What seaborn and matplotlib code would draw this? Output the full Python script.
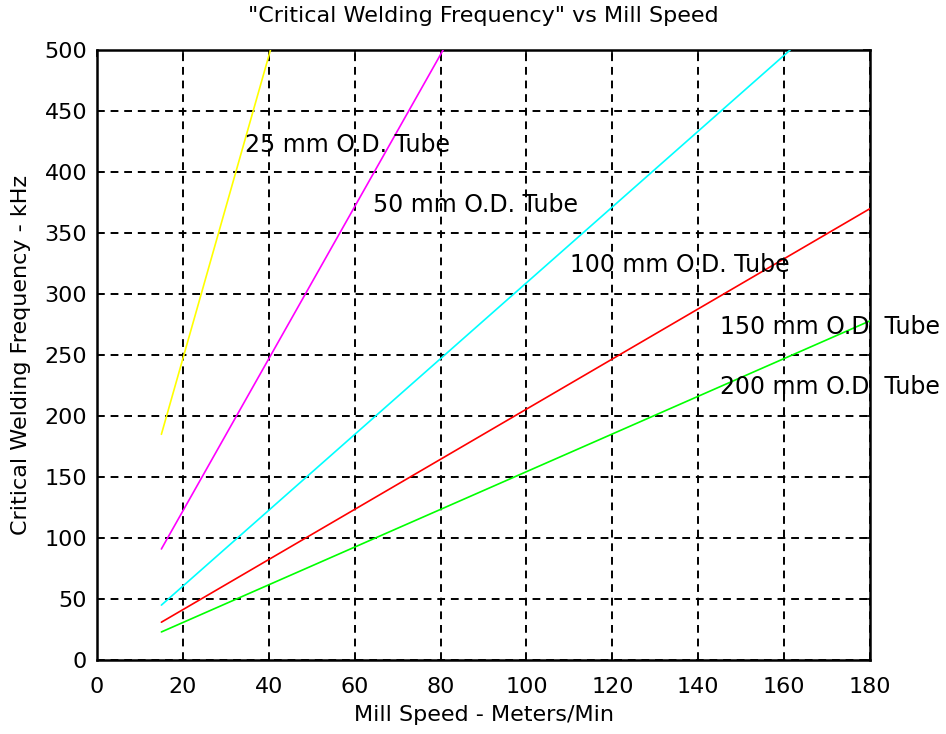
import matplotlib
matplotlib.use("Agg")
import matplotlib.pyplot as plt
import seaborn as sns
import pandas as pd

# Data (straight lines: start and end points)
tubes = ["25 mm", "50 mm", "100 mm", "150 mm", "200 mm"]
speed_start = [15, 15, 15, 15, 15]
speed_end = [40.4, 80.6, 161.4, 180, 180]
freq_start = [185, 91, 45, 31, 23]
freq_end = [500, 500, 500, 370, 278]
colors = ["#ffff00", "#ff00ff", "#00ffff", "#ff0000", "#00ff00"]

label_texts = ["25 mm O.D. Tube", "50 mm O.D. Tube", "100 mm O.D. Tube",
               "150 mm O.D  Tube", "200 mm O.D  Tube"]
label_x = [34.5, 64.3, 110.2, 145.1, 145.1]
label_y = [422, 373, 324, 273, 224]

x_ticks = [0, 20, 40, 60, 80, 100, 120, 140, 160, 180]
y_ticks = [0, 50, 100, 150, 200, 250, 300, 350, 400, 450, 500]

rows = []
for t, xs, xe, ys, ye in zip(tubes, speed_start, speed_end, freq_start, freq_end):
    rows.append({"tube": t, "speed": xs, "freq": ys})
    rows.append({"tube": t, "speed": xe, "freq": ye})
df = pd.DataFrame(rows)

sns.set_style("white")
plt.rcParams["font.family"] = ["DejaVu Sans"]
plt.rcParams["text.color"] = "black"

fig = plt.figure(figsize=(9.46, 7.34), dpi=100)
ax = fig.add_axes([0.1025, 0.1008, 0.8172, 0.8311])

sns.lineplot(data=df, x="speed", y="freq", hue="tube", hue_order=tubes,
             palette=dict(zip(tubes, colors)), linewidth=1.2, legend=False,
             ax=ax, zorder=3)

ax.set_xlim(0, 180)
ax.set_ylim(0, 500)
ax.set_xticks(x_ticks)
ax.set_yticks(y_ticks)
ax.tick_params(direction="in", length=5, width=1.2, top=True, right=True,
               labelsize=16, colors="black")
ax.tick_params(axis="x", pad=12)
ax.tick_params(axis="y", pad=7)
ax.grid(True, color="black", linestyle=(0, (4, 3)), linewidth=1.4)
for s in ax.spines.values():
    s.set_color("black")
    s.set_linewidth(1.8)
    s.set_visible(True)

for txt, lx, ly in zip(label_texts, label_x, label_y):
    ax.text(lx, ly, txt, fontsize=17, ha="left", va="center", zorder=4,
            color="black", clip_on=False)

ax.set_xlabel("Mill Speed - Meters/Min", fontsize=16, labelpad=6, color="black")
ax.set_ylabel("Critical Welding Frequency - kHz", fontsize=16, labelpad=10,
              color="black")
ax.set_title("\"Critical Welding Frequency\" vs Mill Speed", fontsize=16,
             pad=20, color="black")

fig.savefig("out.png", dpi=100, facecolor="white")
